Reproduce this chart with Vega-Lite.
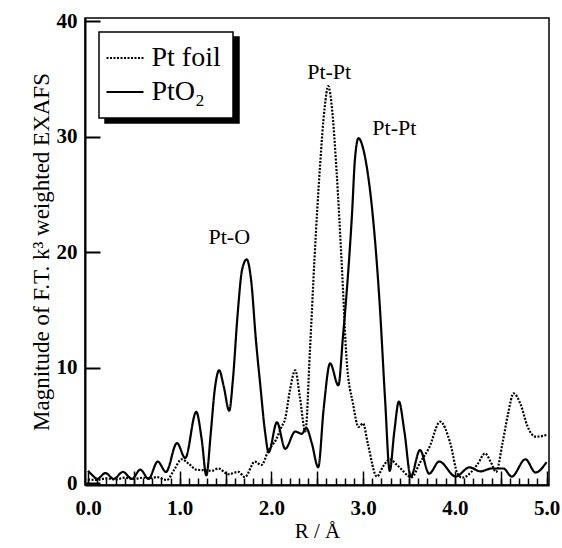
{
  "$schema": "https://vega.github.io/schema/vega-lite/v6.json",
  "width": 464,
  "height": 467,
  "autosize": {"type": "none"},
  "padding": {"left": 85, "top": 18, "right": 13, "bottom": 63},
  "background": "white",
  "config": {
    "view": {"stroke": "black", "strokeWidth": 1.5},
    "font": "Liberation Serif",
    "legend": {
      "labelFont": "Liberation Serif",
      "labelFontSize": 28,
      "labelColor": "black",
      "padding": 12,
      "rowPadding": 6,
      "symbolSize": 676,
      "symbolType": "M-1.423,0H1.423",
      "symbolStrokeWidth": 2,
      "symbolStrokeColor": "black",
      "labelOffset": 12.5,
      "strokeColor": "black",
      "strokeWidth": 1.5
    }
  },
  "datasets": {
    "curves": [
      {"sample": "PtO₂", "R": 0.00, "F": 1.1},
      {"sample": "PtO₂", "R": 0.05, "F": 0.7},
      {"sample": "PtO₂", "R": 0.10, "F": 0.4},
      {"sample": "PtO₂", "R": 0.19, "F": 0.9},
      {"sample": "PtO₂", "R": 0.28, "F": 0.4},
      {"sample": "PtO₂", "R": 0.38, "F": 1.0},
      {"sample": "PtO₂", "R": 0.48, "F": 0.4},
      {"sample": "PtO₂", "R": 0.57, "F": 1.2},
      {"sample": "PtO₂", "R": 0.66, "F": 0.4},
      {"sample": "PtO₂", "R": 0.76, "F": 1.9},
      {"sample": "PtO₂", "R": 0.85, "F": 1.0},
      {"sample": "PtO₂", "R": 0.97, "F": 3.5},
      {"sample": "PtO₂", "R": 1.06, "F": 2.2},
      {"sample": "PtO₂", "R": 1.18, "F": 6.2},
      {"sample": "PtO₂", "R": 1.24, "F": 3.8},
      {"sample": "PtO₂", "R": 1.29, "F": 0.7},
      {"sample": "PtO₂", "R": 1.34, "F": 4.5},
      {"sample": "PtO₂", "R": 1.38, "F": 8.0},
      {"sample": "PtO₂", "R": 1.43, "F": 9.8},
      {"sample": "PtO₂", "R": 1.48, "F": 8.4},
      {"sample": "PtO₂", "R": 1.54, "F": 6.3},
      {"sample": "PtO₂", "R": 1.58, "F": 9.0},
      {"sample": "PtO₂", "R": 1.63, "F": 14.5},
      {"sample": "PtO₂", "R": 1.68, "F": 18.5},
      {"sample": "PtO₂", "R": 1.73, "F": 19.4},
      {"sample": "PtO₂", "R": 1.78, "F": 17.5},
      {"sample": "PtO₂", "R": 1.83, "F": 12.5},
      {"sample": "PtO₂", "R": 1.88, "F": 8.4},
      {"sample": "PtO₂", "R": 1.93, "F": 4.5},
      {"sample": "PtO₂", "R": 1.97, "F": 2.7},
      {"sample": "PtO₂", "R": 2.06, "F": 5.3},
      {"sample": "PtO₂", "R": 2.15, "F": 3.0},
      {"sample": "PtO₂", "R": 2.26, "F": 4.5},
      {"sample": "PtO₂", "R": 2.33, "F": 4.3},
      {"sample": "PtO₂", "R": 2.38, "F": 4.8},
      {"sample": "PtO₂", "R": 2.44, "F": 3.5},
      {"sample": "PtO₂", "R": 2.51, "F": 1.4},
      {"sample": "PtO₂", "R": 2.57, "F": 6.5},
      {"sample": "PtO₂", "R": 2.64, "F": 10.4},
      {"sample": "PtO₂", "R": 2.73, "F": 8.5},
      {"sample": "PtO₂", "R": 2.78, "F": 12.7},
      {"sample": "PtO₂", "R": 2.82, "F": 16.5},
      {"sample": "PtO₂", "R": 2.88, "F": 23.5},
      {"sample": "PtO₂", "R": 2.91, "F": 28.0},
      {"sample": "PtO₂", "R": 2.95, "F": 29.9},
      {"sample": "PtO₂", "R": 3.00, "F": 29.0},
      {"sample": "PtO₂", "R": 3.04, "F": 27.4},
      {"sample": "PtO₂", "R": 3.11, "F": 22.8},
      {"sample": "PtO₂", "R": 3.18, "F": 15.6},
      {"sample": "PtO₂", "R": 3.24, "F": 7.2},
      {"sample": "PtO₂", "R": 3.29, "F": 1.1},
      {"sample": "PtO₂", "R": 3.34, "F": 4.5},
      {"sample": "PtO₂", "R": 3.39, "F": 7.1},
      {"sample": "PtO₂", "R": 3.45, "F": 4.5},
      {"sample": "PtO₂", "R": 3.52, "F": 0.6},
      {"sample": "PtO₂", "R": 3.62, "F": 2.9},
      {"sample": "PtO₂", "R": 3.72, "F": 0.85},
      {"sample": "PtO₂", "R": 3.83, "F": 1.9},
      {"sample": "PtO₂", "R": 4.01, "F": 0.6},
      {"sample": "PtO₂", "R": 4.16, "F": 1.4},
      {"sample": "PtO₂", "R": 4.28, "F": 1.05},
      {"sample": "PtO₂", "R": 4.40, "F": 1.3},
      {"sample": "PtO₂", "R": 4.53, "F": 1.3},
      {"sample": "PtO₂", "R": 4.62, "F": 0.6},
      {"sample": "PtO₂", "R": 4.77, "F": 2.1},
      {"sample": "PtO₂", "R": 4.88, "F": 0.95},
      {"sample": "PtO₂", "R": 5.00, "F": 1.85},
      {"sample": "Pt foil", "R": 0.00, "F": 0.35},
      {"sample": "Pt foil", "R": 0.10, "F": 0.3},
      {"sample": "Pt foil", "R": 0.20, "F": 0.45},
      {"sample": "Pt foil", "R": 0.30, "F": 0.35},
      {"sample": "Pt foil", "R": 0.40, "F": 0.5},
      {"sample": "Pt foil", "R": 0.50, "F": 0.4},
      {"sample": "Pt foil", "R": 0.60, "F": 0.5},
      {"sample": "Pt foil", "R": 0.68, "F": 0.45},
      {"sample": "Pt foil", "R": 0.75, "F": 0.55},
      {"sample": "Pt foil", "R": 0.86, "F": 0.3},
      {"sample": "Pt foil", "R": 0.94, "F": 1.2},
      {"sample": "Pt foil", "R": 1.02, "F": 2.1},
      {"sample": "Pt foil", "R": 1.10, "F": 1.7},
      {"sample": "Pt foil", "R": 1.18, "F": 1.2},
      {"sample": "Pt foil", "R": 1.26, "F": 1.15},
      {"sample": "Pt foil", "R": 1.35, "F": 1.1},
      {"sample": "Pt foil", "R": 1.42, "F": 1.3},
      {"sample": "Pt foil", "R": 1.53, "F": 0.8},
      {"sample": "Pt foil", "R": 1.64, "F": 1.0},
      {"sample": "Pt foil", "R": 1.71, "F": 0.55},
      {"sample": "Pt foil", "R": 1.82, "F": 1.9},
      {"sample": "Pt foil", "R": 1.89, "F": 1.6},
      {"sample": "Pt foil", "R": 1.97, "F": 2.9},
      {"sample": "Pt foil", "R": 2.05, "F": 3.8},
      {"sample": "Pt foil", "R": 2.11, "F": 4.9},
      {"sample": "Pt foil", "R": 2.15, "F": 5.6},
      {"sample": "Pt foil", "R": 2.20, "F": 8.0},
      {"sample": "Pt foil", "R": 2.26, "F": 9.8},
      {"sample": "Pt foil", "R": 2.31, "F": 7.5},
      {"sample": "Pt foil", "R": 2.37, "F": 4.5},
      {"sample": "Pt foil", "R": 2.42, "F": 11.5},
      {"sample": "Pt foil", "R": 2.47, "F": 19.5},
      {"sample": "Pt foil", "R": 2.53, "F": 27.5},
      {"sample": "Pt foil", "R": 2.58, "F": 32.5},
      {"sample": "Pt foil", "R": 2.62, "F": 34.4},
      {"sample": "Pt foil", "R": 2.66, "F": 32.5},
      {"sample": "Pt foil", "R": 2.71, "F": 27.1},
      {"sample": "Pt foil", "R": 2.77, "F": 18.5},
      {"sample": "Pt foil", "R": 2.82, "F": 10.7},
      {"sample": "Pt foil", "R": 2.89, "F": 6.9},
      {"sample": "Pt foil", "R": 2.95, "F": 4.9},
      {"sample": "Pt foil", "R": 3.00, "F": 5.2},
      {"sample": "Pt foil", "R": 3.05, "F": 3.5},
      {"sample": "Pt foil", "R": 3.15, "F": 0.6},
      {"sample": "Pt foil", "R": 3.22, "F": 1.5},
      {"sample": "Pt foil", "R": 3.29, "F": 2.1},
      {"sample": "Pt foil", "R": 3.37, "F": 1.6},
      {"sample": "Pt foil", "R": 3.53, "F": 0.55},
      {"sample": "Pt foil", "R": 3.62, "F": 1.8},
      {"sample": "Pt foil", "R": 3.72, "F": 3.1},
      {"sample": "Pt foil", "R": 3.84, "F": 5.35},
      {"sample": "Pt foil", "R": 3.95, "F": 3.5},
      {"sample": "Pt foil", "R": 4.03, "F": 0.85},
      {"sample": "Pt foil", "R": 4.08, "F": 0.5},
      {"sample": "Pt foil", "R": 4.18, "F": 1.0},
      {"sample": "Pt foil", "R": 4.25, "F": 1.7},
      {"sample": "Pt foil", "R": 4.33, "F": 2.6},
      {"sample": "Pt foil", "R": 4.39, "F": 1.9},
      {"sample": "Pt foil", "R": 4.45, "F": 1.0},
      {"sample": "Pt foil", "R": 4.52, "F": 3.5},
      {"sample": "Pt foil", "R": 4.58, "F": 6.0},
      {"sample": "Pt foil", "R": 4.64, "F": 7.8},
      {"sample": "Pt foil", "R": 4.72, "F": 6.8},
      {"sample": "Pt foil", "R": 4.79, "F": 5.0},
      {"sample": "Pt foil", "R": 4.88, "F": 4.05},
      {"sample": "Pt foil", "R": 4.95, "F": 4.1},
      {"sample": "Pt foil", "R": 5.00, "F": 4.2}
    ],
    "notes": [
      {"label": "Pt-O", "R": 1.54, "F": 21.3},
      {"label": "Pt-Pt", "R": 2.63, "F": 35.6},
      {"label": "Pt-Pt", "R": 3.34, "F": 30.8}
    ]
  },
  "layer": [
    {
      "data": {"name": "curves"},
      "mark": {"type": "line", "interpolate": "monotone", "strokeWidth": 2.2},
      "encoding": {
        "x": {
          "field": "R", "type": "quantitative",
          "scale": {"domain": [-0.033, 5.027], "nice": false, "zero": false},
          "axis": {
            "orient": "bottom",
            "values": [0, 0.5, 1, 1.5, 2, 2.5, 3, 3.5, 4, 4.5, 5],
            "labelExpr": "datum.value % 1 === 0 ? format(datum.value, '.1f') : ''",
            "tickSize": -14, "tickWidth": 1.5, "tickColor": "black",
            "domainColor": "black", "domainWidth": 2,
            "labelFont": "Liberation Serif", "labelFontWeight": "bold", "labelFontSize": 21,
            "labelColor": "black", "labelPadding": 26, "labelFlush": false, "labelOverlap": false,
            "title": "R / Å", "titleFont": "Liberation Serif", "titleFontWeight": "normal",
            "titleFontSize": 21, "titleColor": "black", "titlePadding": 2, "grid": false
          }
        },
        "y": {
          "field": "F", "type": "quantitative",
          "scale": {"domain": [-0.13, 40.3], "nice": false, "zero": false},
          "axis": {
            "values": [0, 10, 20, 30, 40],
            "tickSize": -15, "tickWidth": 2, "tickColor": "black",
            "domainColor": "black", "domainWidth": 2,
            "labelFont": "Liberation Serif", "labelFontWeight": "bold", "labelFontSize": 21,
            "labelColor": "black", "labelPadding": 23, "labelFlush": false,
            "title": "Magnitude of F.T. k³ weighted EXAFS", "titleFont": "Liberation Serif",
            "titleFontWeight": "normal", "titleFontSize": 23, "titleColor": "black",
            "titlePadding": 3, "grid": false
          }
        },
        "color": {
          "field": "sample", "type": "nominal",
          "scale": {"domain": ["Pt foil", "PtO₂"], "range": ["black", "black"]},
          "legend": {"title": null, "orient": "top-left", "offset": 14, "fillColor": "white", "zindex": 2}
        },
        "strokeDash": {
          "field": "sample", "type": "nominal",
          "scale": {"domain": ["Pt foil", "PtO₂"], "range": [[2, 1.5], [1, 0]]},
          "legend": {"title": null, "orient": "top-left", "offset": 14, "fillColor": "white", "zindex": 2}
        },
        "opacity": {
          "field": "sample", "type": "nominal",
          "scale": {"domain": ["Pt foil", "PtO₂"], "range": [1, 1]},
          "legend": {"title": null, "orient": "none", "legendX": 20, "legendY": 19, "fillColor": "black", "labelColor": "black", "symbolFillColor": "black", "zindex": 1}
        }
      }
    },
    {
      "data": {"name": "notes"},
      "mark": {"type": "text", "font": "Liberation Serif", "fontSize": 22, "color": "black", "baseline": "middle", "align": "center"},
      "encoding": {
        "x": {
          "field": "R", "type": "quantitative",
          "scale": {"domain": [-0.033, 5.027], "nice": false, "zero": false},
          "axis": {
            "orient": "bottom",
            "values": [0, 0.1, 0.2, 0.3, 0.4, 0.5, 0.6, 0.7, 0.8, 0.9, 1, 1.1, 1.2, 1.3, 1.4, 1.5, 1.6, 1.7, 1.8, 1.9, 2, 2.1, 2.2, 2.3, 2.4, 2.5, 2.6, 2.7, 2.8, 2.9, 3, 3.1, 3.2, 3.3, 3.4, 3.5, 3.6, 3.7, 3.8, 3.9, 4, 4.1, 4.2, 4.3, 4.4, 4.5, 4.6, 4.7, 4.8, 4.9, 5],
            "tickSize": -7, "tickWidth": 1.5, "tickColor": "black",
            "labels": false, "domain": false, "title": null, "grid": false
          }
        },
        "y": {
          "field": "F", "type": "quantitative",
          "scale": {"domain": [-0.13, 40.3], "nice": false, "zero": false},
          "axis": null
        },
        "text": {"field": "label", "type": "nominal"}
      }
    }
  ],
  "resolve": {"axis": {"x": "independent", "y": "independent"}, "legend": {"opacity": "independent"}}
}
